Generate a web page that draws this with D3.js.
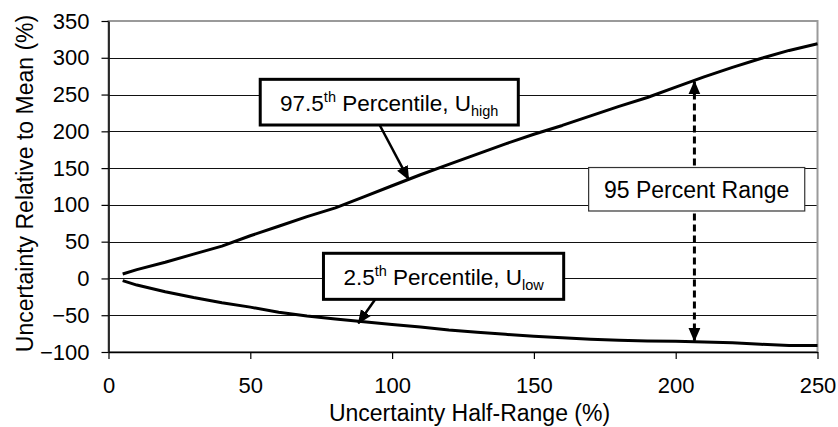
<!DOCTYPE html>
<html>
<head>
<meta charset="utf-8">
<script src="https://cdn.jsdelivr.net/npm/d3@7"></script>
<style>
body { margin: 0; background: white; }
text { font-family: "Liberation Sans", Arial, sans-serif; fill: black; white-space: pre; }
</style>
</head>
<body>
<script>
const halfRange = [5, 10, 20, 30, 40, 50, 60, 70, 80, 90, 100, 110, 120, 130, 140, 150, 160, 170, 180, 190, 200, 210, 220, 230, 240, 250]
const uHigh = [6, 12, 22, 33, 44, 58, 71, 84, 96, 111, 126, 141, 155, 169, 183, 196, 208, 221, 234, 246, 260, 274, 287, 299, 310, 319]
const uLow = [-3, -9, -18, -26, -33, -39, -46, -51, -55, -59, -62.5, -66, -70, -73, -76, -78.5, -80.5, -82.5, -84, -85, -85.5, -86.5, -87.5, -89.5, -91, -91.3]
const xTicks = [0, 50, 100, 150, 200, 250]
const yTicks = [-100, -50, 0, 50, 100, 150, 200, 250, 300, 350]

const width = 838, height = 427

const x = d3.scaleLinear().domain([0, 250]).range([108.5, 817.5])
const y = d3.scaleLinear().domain([-100, 350]).range([352, 21])

const svg = d3.select('body').append('svg')
    .attr('width', width)
    .attr('height', height)

const defs = svg.append('defs')
defs.append('marker')
    .attr('id', 'head')
    .attr('markerUnits', 'userSpaceOnUse')
    .attr('viewBox', '0 0 14 14')
    .attr('markerWidth', 14)
    .attr('markerHeight', 14)
    .attr('refX', 13)
    .attr('refY', 7)
    .attr('orient', 'auto-start-reverse')
  .append('path')
    .attr('d', 'M0,1 L14,7 L0,13 Z')
    .attr('fill', 'black')

// gridlines
svg.append('g')
    .selectAll('line')
    .data(yTicks.filter(d => d > -100 && d < 350))
    .enter()
    .append('line')
    .attr('x1', x(0))
    .attr('x2', x(250))
    .attr('y1', d => Math.round(y(d)) + 0.5)
    .attr('y2', d => Math.round(y(d)) + 0.5)
    .attr('stroke', '#111')
    .attr('stroke-width', 1)

// plot area border (grey)
svg.append('rect')
    .attr('x', x(0))
    .attr('y', y(350))
    .attr('width', x(250) - x(0))
    .attr('height', y(-100) - y(350))
    .attr('fill', 'none')
    .attr('stroke', '#9a9a9a')
    .attr('stroke-width', 2)

const yAxis = svg.append('g')
    .attr('transform', `translate(${x(0)},0)`)
    .call(d3.axisLeft(y).tickValues(yTicks).tickSize(7).tickSizeOuter(0).tickPadding(12))
const xAxis = svg.append('g')
    .attr('transform', `translate(0,${y(-100)})`)
    .call(d3.axisBottom(x).tickValues(xTicks).tickSize(7).tickSizeOuter(0).tickPadding(18))

for (const ax of [yAxis, xAxis]) {
    ax.select('.domain').attr('stroke', 'black').attr('stroke-width', 1.5)
    ax.selectAll('.tick line').attr('stroke', 'black').attr('stroke-width', 1.2)
    ax.selectAll('.tick text')
        .attr('font-size', 22)
        .attr('font-family', '"Liberation Sans", Arial, sans-serif')
        .attr('fill', 'black')
}

// curves
const line = d3.line()
    .x((d, i) => x(halfRange[i]))
    .y(d => y(d))

for (const series of [uHigh, uLow]) {
    svg.append('path')
        .datum(series)
        .attr('d', line)
        .attr('fill', 'none')
        .attr('stroke', 'black')
        .attr('stroke-width', 3)
        .attr('stroke-linejoin', 'round')
}

// 95 percent range arrow, between the two curves
const xr = 206.6
const topVal = d3.scaleLinear().domain(halfRange).range(uHigh)(xr)
const botVal = d3.scaleLinear().domain(halfRange).range(uLow)(xr)
svg.append('line')
    .attr('x1', x(xr))
    .attr('x2', x(xr))
    .attr('y1', y(topVal) + 1)
    .attr('y2', y(botVal) - 1)
    .attr('stroke', 'black')
    .attr('stroke-width', 3)
    .attr('stroke-dasharray', '7,4')
    .attr('marker-start', 'url(#head)')
    .attr('marker-end', 'url(#head)')

// pointer arrows
const pointers = [
    {from: [95, 213], to: [105.8, 134.8]},
    {from: [94, -28.6], to: [88.1, -61]},
]
pointers.forEach(p => {
    svg.append('line')
        .attr('x1', x(p.from[0]))
        .attr('y1', y(p.from[1]))
        .attr('x2', x(p.to[0]))
        .attr('y2', y(p.to[1]))
        .attr('stroke', 'black')
        .attr('stroke-width', 2.5)
        .attr('marker-end', 'url(#head)')
})

// callout boxes
function box(x0, x1, y0, y1, sw, col) {
    svg.append('rect')
        .attr('x', x(x0))
        .attr('y', y(y0))
        .attr('width', x(x1) - x(x0))
        .attr('height', y(y1) - y(y0))
        .attr('fill', 'white')
        .attr('stroke', col)
        .attr('stroke-width', sw)
    return svg.append('text')
        .attr('x', (x(x0) + x(x1)) / 2)
        .attr('y', (y(y0) + y(y1)) / 2 + 9)
        .attr('text-anchor', 'middle')
        .attr('font-size', 23)
}

function percentile(t, num, sub) {
    t.attr('font-size', 22.5)
    t.append('tspan').text(num)
    t.append('tspan').text('th').attr('font-size', 14.5).attr('dy', -9)
    t.append('tspan').text(' Percentile, U').attr('dy', 9)
    t.append('tspan').text(sub).attr('font-size', 14.5).attr('dy', 4.5)
}

percentile(box(53.5, 144.5, 270.7, 208.6, 3, 'black'), '97.5', 'high')
percentile(box(75.8, 160.5, 34.2, -28.4, 3, 'black'), '2.5', 'low')
box(169.3, 245.5, 150.8, 91.7, 1.2, '#333').text('95 Percent Range')

// axis titles
svg.append('text')
    .attr('transform', 'translate(32.5,183.5) rotate(-90)')
    .attr('text-anchor', 'middle')
    .attr('font-size', 23)
    .text('Uncertainty Relative to Mean (%)')

svg.append('text')
    .attr('x', 469.5)
    .attr('y', 421)
    .attr('text-anchor', 'middle')
    .attr('font-size', 23)
    .text('Uncertainty Half-Range (%)')
</script>
</body>
</html>
